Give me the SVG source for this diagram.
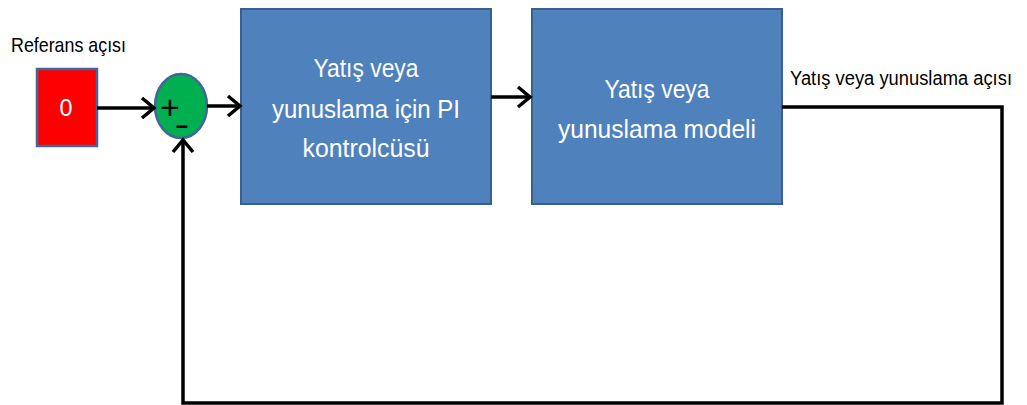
<svg xmlns="http://www.w3.org/2000/svg" width="1027" height="405" viewBox="0 0 1027 405">
  <style>
    .block { fill: #4F81BD; stroke: #3A5F8F; stroke-width: 2; }
    .ref { fill: #FF0000; stroke: #41669A; stroke-width: 2.5; }
    .sum { fill: #00B050; stroke: #41669A; stroke-width: 2.5; }
    .wire { fill: none; stroke: #000; stroke-width: 3.5; stroke-linejoin: miter; }
    .txt-w { font-family: "Liberation Sans", Arial, sans-serif; fill: #FFFFFF; text-anchor: middle; }
    .txt-k { font-family: "Liberation Sans", Arial, sans-serif; fill: #000000; }
  </style>
  <defs>
    <marker id="arrow" markerUnits="userSpaceOnUse" markerWidth="26" markerHeight="26" refX="15" refY="13" orient="auto">
      <path d="M3,3 L15,13 L3,23" fill="none" stroke="#000" stroke-width="3.5" stroke-linejoin="miter"/>
    </marker>
  </defs>

  <rect width="1027" height="405" fill="#FFFFFF"/>

  <!-- reference input -->
  <g id="reference">
    <text class="txt-k" x="11" y="52" font-size="21" textLength="115" lengthAdjust="spacingAndGlyphs">Referans açısı</text>
    <rect class="ref" x="37" y="69" width="60" height="77"/>
    <text class="txt-w" x="66" y="116" font-size="24" textLength="13" lengthAdjust="spacingAndGlyphs">0</text>
  </g>

  <!-- summing junction -->
  <g id="summer">
    <ellipse class="sum" cx="181" cy="106" rx="26" ry="32"/>
    <text class="txt-k" x="170" y="119" font-size="34" text-anchor="middle">+</text>
    <text class="txt-k" x="182" y="134" font-size="22" font-weight="bold" text-anchor="middle">−</text>
  </g>

  <!-- PI controller -->
  <g id="controller">
    <rect class="block" x="241" y="9" width="250" height="195"/>
    <text class="txt-w" x="366" y="77" font-size="26" textLength="105" lengthAdjust="spacingAndGlyphs">Yatış veya</text>
    <text class="txt-w" x="366" y="118" font-size="26" textLength="188" lengthAdjust="spacingAndGlyphs">yunuslama için PI</text>
    <text class="txt-w" x="366" y="157" font-size="26" textLength="127" lengthAdjust="spacingAndGlyphs">kontrolcüsü</text>
  </g>

  <!-- plant model -->
  <g id="model">
    <rect class="block" x="532" y="9" width="250" height="195"/>
    <text class="txt-w" x="657" y="98" font-size="26" textLength="105" lengthAdjust="spacingAndGlyphs">Yatış veya</text>
    <text class="txt-w" x="657" y="138" font-size="26" textLength="198" lengthAdjust="spacingAndGlyphs">yunuslama modeli</text>
  </g>

  <!-- output label -->
  <g id="output">
    <text class="txt-k" x="790" y="85" font-size="20" textLength="222" lengthAdjust="spacingAndGlyphs">Yatış veya yunuslama açısı</text>
  </g>

  <!-- connectors -->
  <g id="connectors">
    <line class="wire" x1="97" y1="108" x2="154" y2="108" marker-end="url(#arrow)"/>
    <line class="wire" x1="207" y1="106" x2="240" y2="106" marker-end="url(#arrow)"/>
    <line class="wire" x1="491" y1="97" x2="530" y2="97" marker-end="url(#arrow)"/>
    <polyline class="wire" points="782,107 1002,107 1002,403 183,403 183,140" marker-end="url(#arrow)"/>
  </g>
</svg>
